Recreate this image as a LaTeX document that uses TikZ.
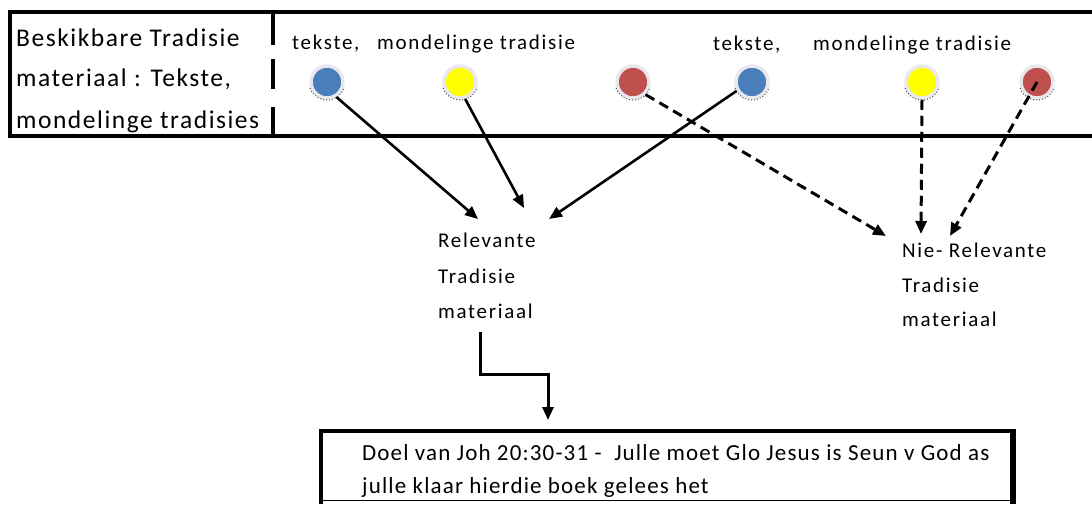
\documentclass[tikz,border=0pt]{standalone}
\usepackage{fontspec}
\setmainfont{Carlito}
\newfontfamily\fa[LetterSpace=8]{Carlito}
\newfontfamily\fb[LetterSpace=5]{Carlito}
\newfontfamily\fc[LetterSpace=6]{Carlito}
\usetikzlibrary{arrows.meta}
\definecolor{dblue}{HTML}{4A7EBB}
\definecolor{dyellow}{HTML}{FFFF00}
\definecolor{dred}{HTML}{C0504D}
\definecolor{halo}{HTML}{E8E8EE}
\tikzset{
  tdot/.style={circle, minimum size=32pt, inner sep=0pt, draw=halo, line width=3.5pt},
  shade/.style={dotted, gray!60!black, line width=1pt},
  lab/.style={font=\fa\fontsize{21}{24}\selectfont, inner sep=0pt, anchor=base west},
  big/.style={font=\fc\fontsize{25.5}{28}\selectfont, inner sep=0pt, anchor=base west},
  body/.style={font=\fb\fontsize{23}{26}\selectfont, inner sep=0pt, anchor=base west},
  arr/.style={line width=2.6pt, -{Triangle[length=13pt,width=11pt]}},
  darr/.style={arr, line width=3pt, dash pattern=on 10pt off 6pt},
  frame/.style={line width=4pt},
}
\begin{document}
\begin{tikzpicture}[x=1pt,y=-1pt]
\useasboundingbox (0,0) rectangle (1092,504);
% top frame
\draw[frame] (1092,12) -- (10,12) -- (10,136);
\draw[frame] (8,136) -- (1092,136);
\draw[frame, dash pattern=on 33pt off 14pt on 30pt off 18pt on 30pt] (273,12) -- (273,136);
% left text
\node[big] (src1) at (16,46) {Beskikbare Tradisie};
\node[big] (src2) at (16,86) {materiaal : Tekste,};
\node[big] (src3) at (16,128) {mondelinge tradisies};
% labels
\node[lab] (l1) at (292,49) {tekste,};
\node[lab] (l2) at (377,49) {mondelinge tradisie};
\node[lab] (l3) at (713,50) {tekste,};
\node[lab] (l4) at (813,50) {mondelinge tradisie};
% dots
\foreach \n/\x/\c in {b1/327/dblue, y1/460/dyellow, r1/633/dred, b2/752/dblue, y2/922/dyellow, r2/1037/dred}{
  \node[tdot, fill=\c] (\n) at (\x,82) {};
  \draw[shade] (\n.center) ++(160:18) arc[start angle=160, end angle=20, radius=18];
}
% targets
\node[lab] (rel1) at (438,247) {Relevante};
\node[lab] (rel2) at (438,283) {Tradisie};
\node[lab] (rel3) at (438,318) {materiaal};
\node[lab] (nie1) at (902,257) {Nie- Relevante};
\node[lab] (nie2) at (902,292) {Tradisie};
\node[lab] (nie3) at (902,326) {materiaal};
\coordinate (e1) at (478,219);
\coordinate (e2) at (524,208);
\coordinate (e3) at (549,219);
\coordinate (e4) at (886,236);
\coordinate (e5) at (921,234);
\coordinate (e6) at (950,236);
\draw[arr] (b1.-58) -- (e1);
\draw[arr] (y1.-73) -- (e2);
\draw[arr] (b2.-150) -- (e3);
\draw[darr] (r1.-45) -- (e4);
\draw[darr] (y2.-90) -- (e5);
\draw[darr] (r2.center) -- (e6);
% elbow
\coordinate (k1) at (480,332);
\coordinate (k2) at (548,420);
\draw[line width=3pt, -{Triangle[length=13pt,width=11pt]}] (k1) |- (548,374) -- (k2);
% bottom box
\draw[frame] (321,504) -- (321,431) -- (1013,431);
\draw[line width=6pt] (1013,429) -- (1013,504);
\draw[line width=1pt] (321,500) -- (1013,500);
\node[body] (g1) at (362,460) {Doel van Joh 20:30-31 -\ \ Julle moet Glo Jesus is Seun v God as};
\node[body] (g2) at (362,493) {julle klaar hierdie boek gelees het};
\end{tikzpicture}
\end{document}
